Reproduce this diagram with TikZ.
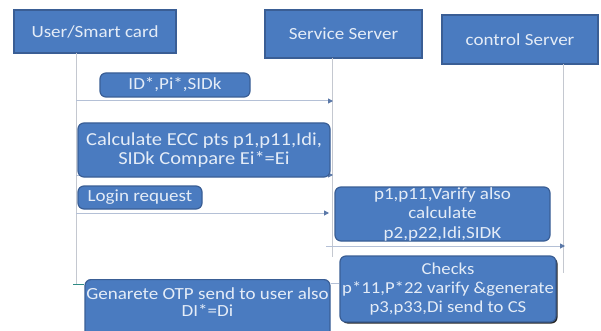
\documentclass[tikz,border=0pt]{standalone}
\usepackage{fontspec}
\setmainfont{Carlito}[FakeStretch=1.12]
\usetikzlibrary{arrows.meta,shadows}
\definecolor{boxfill}{HTML}{4A7BC0}
\definecolor{boxline}{HTML}{3A5E95}
\definecolor{boxtext}{HTML}{E4ECF7}
\definecolor{lifeline}{HTML}{C4C8D0}
\definecolor{msgline}{HTML}{B4C0D6}
\definecolor{msghead}{HTML}{5A78A8}
\definecolor{tealline}{HTML}{2E8A84}
\tikzset{
  actor/.style={draw=boxline, line width=1.2pt, fill=boxfill, text=boxtext,
    inner sep=0pt, align=center, font=\fontsize{17}{19.5}\selectfont},
  msgbox/.style={actor, rounded corners=6pt},
  plaintext/.style={text=boxtext, inner sep=0pt, align=center, font=\fontsize{17}{17}\selectfont},
  life/.style={draw=lifeline, line width=1pt},
  msg/.style={draw=msgline, line width=1pt, -{Triangle[length=5pt,width=5pt,fill=msghead,color=msghead]}},
}
\begin{document}
\begin{tikzpicture}[x=1pt,y=-1pt]
\useasboundingbox (0,0) rectangle (601,331);
\clip (0,0) rectangle (601,331);
\fill[white] (0,0) rectangle (601,331);
% actors
\node[actor, minimum width=162pt, minimum height=43pt] (user) at (95,31.5) {User/Smart card};
\node[actor, minimum width=157pt, minimum height=48pt] (ss) at (343.5,34) {Service Server};
\node[actor, minimum width=156pt, minimum height=49pt] (cs) at (520,39.5) {control Server};
% lifeline coordinates
\coordinate (uTop) at (76,53);
\coordinate (uBot) at (76,284);
\coordinate (sTop) at (332,58);
\coordinate (sBot) at (332,257);
\coordinate (cTop) at (563,64);
\coordinate (cBot) at (563,273);
\draw[life] (uTop) -- (uBot);
\draw[life] (sTop) -- (sBot);
\draw[life] (cTop) -- (cBot);
% message coordinates
\coordinate (m1a) at (76,101);  \coordinate (m1b) at (333,101);
\coordinate (m2a) at (76,175);  \coordinate (m2b) at (333,175);
\coordinate (m3a) at (76,213);  \coordinate (m3b) at (329,213);
\coordinate (m4a) at (326,246); \coordinate (m4b) at (565,246);
\draw[msg] (m1a) -- (m1b);
\draw[msg] (m2a) -- (m2b);
\draw[msg] (m3a) -- (m3b);
\draw[msg] (m4a) -- (m4b);
% message boxes
\node[msgbox, minimum width=150pt, minimum height=24pt] (id) at (175,85) {ID*,Pi*,SIDk};
\node[msgbox, minimum width=252pt, minimum height=54pt, font=\fontsize{18.3}{19.5}\selectfont] (calc) at (204,150)
  {Calculate ECC pts p1,p11,Idi,\\SIDk Compare Ei*=Ei};
\node[msgbox, minimum width=124pt, minimum height=23pt] (login) at (140,197.5) {Login request};
\node[msgbox, minimum width=215pt, minimum height=54pt] (p1) at (442.5,214)
  {p1,p11,Varify also\\calculate\\p2,p22,Idi,SIDK};
\node[msgbox, minimum width=216pt, minimum height=66pt, font=\fontsize{16.7}{19}\selectfont,
  drop shadow={shadow xshift=1.5pt, shadow yshift=-1.5pt, fill=black!85, opacity=1}] (checks) at (448,289)
  {Checks\\p*11,P*22 varify \&generate\\p3,p33,Di send to CS};
\node[msgbox, minimum width=245pt, minimum height=62pt, anchor=north] (gen) at (207.5,279) {};
\node[plaintext] (gentext) at (207.5,302.5) {Genarete OTP send to user also\\DI*=Di};
% small connectors near bottom
\coordinate (tealStart) at (73,284);
\draw[tealline, line width=1pt] (tealStart) -- (tealStart -| gen.west);
\draw[msgline, line width=0.8pt] (gen.east |- 0,283) -- (checks.west |- 0,283);
\end{tikzpicture}
\end{document}
